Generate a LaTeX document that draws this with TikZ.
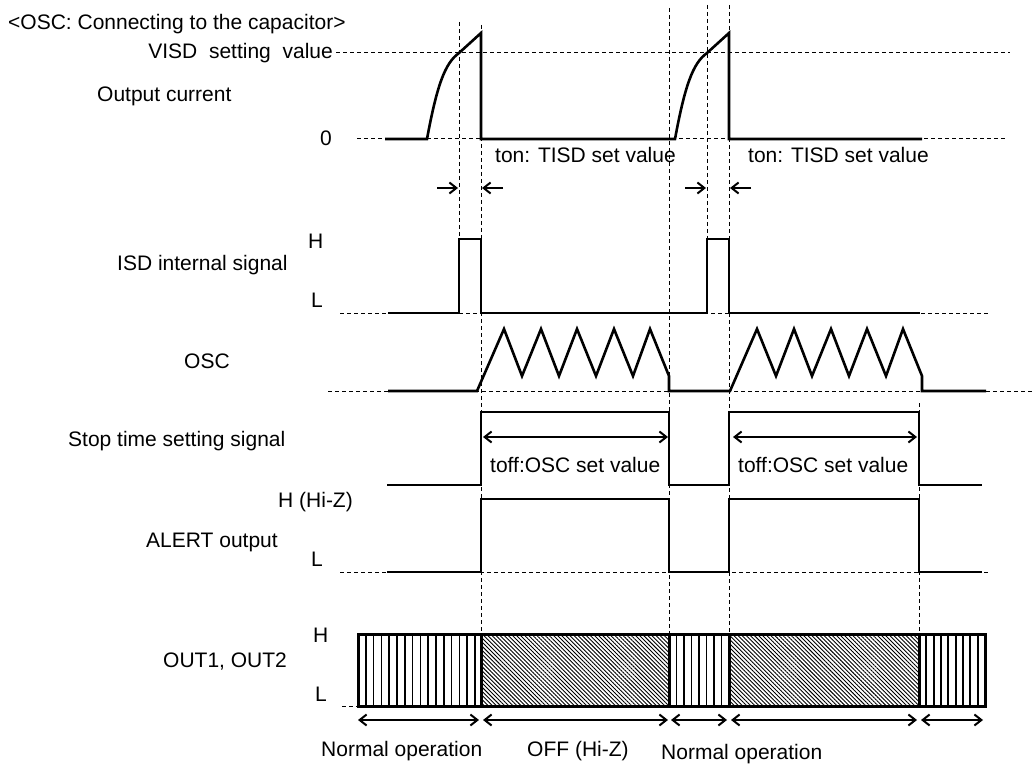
\documentclass[tikz,border=0pt]{standalone}
\usepackage{fontspec}
\setmainfont{Liberation Sans}
\usetikzlibrary{arrows.meta,patterns.meta}
\begin{document}
\begin{tikzpicture}[x=1pt,y=-1pt,
  sig/.style={line width=2.6pt, line join=miter},
  guide/.style={line width=1pt, dash pattern=on 4pt off 3pt},
  lbl/.style={font=\fontsize{21}{25}\selectfont, inner sep=0pt},
  tipr/.style={line width=2.4pt, -{Straight Barb[length=7pt,width=11pt,line width=2pt]}},
  dimarrow/.style={line width=2.4pt, {Straight Barb[length=7pt,width=11pt,line width=2pt]}-{Straight Barb[length=7pt,width=11pt,line width=2pt]}},
  boxline/.style={line width=3pt},
  stripe/.style={line width=1.7pt},
  hatch/.style={pattern={Lines[angle=-45,distance=2.9pt,line width=0.9pt]}}
]
\useasboundingbox (0,0) rectangle (1035,767);

% vertical guide lines
\draw[guide] (459,22) -- (459,239);
\draw[guide] (481,25) -- (481,634);
\draw[guide] (669,8) -- (669,634);
\draw[guide] (707,5) -- (707,239);
\draw[guide] (729,5) -- (729,634);
\draw[guide] (919,403) -- (919,634);

% horizontal guide lines
\draw[guide] (336,53) -- (1010,53);
\draw[guide] (357,139) -- (1007,139);
\draw[guide] (340,313) -- (990,313);
\draw[guide] (328,391) -- (1035,391);
\draw[guide] (340,572) -- (990,572);
\draw[guide] (342,706) -- (358,706);

% output current
\draw[sig] (385,139) -- (427,139) .. controls (437,85) and (445,63) .. (459,53) -- (481,33) -- (481,139) -- (675,139) .. controls (685,85) and (693,63) .. (707,53) -- (729,33) -- (729,139) -- (922,139);

% ISD internal signal
\draw[sig] (388,313) -- (459,313) -- (459,239) -- (481,239) -- (481,313) -- (707,313) -- (707,239) -- (729,239) -- (729,313) -- (920,313);

% OSC
\draw[sig] (388,391) -- (477,391) -- (504,329) -- (522,376) -- (541,329) -- (559,376) -- (577,329) -- (596,376) -- (614,329) -- (633,376) -- (650,329) -- (669,376) -- (669,391) -- (730,391) -- (757,329) -- (776,376) -- (794,329) -- (812,376) -- (831,329) -- (849,376) -- (867,329) -- (886,376) -- (903,329) -- (922,376) -- (922,391) -- (986,391);

% stop time setting signal
\draw[sig] (387,485) -- (481,485) -- (481,412) -- (669,412) -- (669,485) -- (729,485) -- (729,412) -- (919,412) -- (919,485) -- (982,485);

% ALERT output
\draw[sig] (387,572) -- (481,572) -- (481,499) -- (669,499) -- (669,572) -- (729,572) -- (729,499) -- (919,499) -- (919,572) -- (982,572);

% ton arrows
\draw[tipr] (437,188) -- (458,188);
\draw[tipr] (503,188) -- (482,188);
\draw[tipr] (685,188) -- (706,188);
\draw[tipr] (751,188) -- (730,188);

% toff arrows
\draw[dimarrow] (483,437) -- (668,437);
\draw[dimarrow] (733,437) -- (917,437);

% OUT1, OUT2 bars
\fill[hatch] (481,634) rectangle (669,706);
\fill[hatch] (729,634) rectangle (919,706);
\foreach \i in {1,...,15} \draw[stripe] ({358+7.8*\i},634) -- ({358+7.8*\i},706);
\foreach \i in {1,...,7} \draw[stripe] ({669+7.5*\i},634) -- ({669+7.5*\i},706);
\foreach \i in {1,...,8} \draw[stripe] ({919+7.33*\i},634) -- ({919+7.33*\i},706);
\draw[boxline] (358,634) rectangle (481,706);
\draw[boxline] (481,634) rectangle (669,706);
\draw[boxline] (669,634) rectangle (729,706);
\draw[boxline] (729,634) rectangle (919,706);
\draw[boxline] (919,634) rectangle (985,706);

% bottom arrows
\draw[dimarrow] (358,720) -- (479,720);
\draw[dimarrow] (483,720) -- (668,720);
\draw[dimarrow] (671,720) -- (727,720);
\draw[dimarrow] (731,720) -- (917,720);
\draw[dimarrow] (921,720) -- (983,720);

% labels
\node[lbl, anchor=base west] (title) at (8,30) {<OSC: Connecting to the capacitor>};
\node[lbl, anchor=base east] (visd) at (333,59) {VISD\ \ setting\ \ value};
\node[lbl, anchor=base west] (ocur) at (97,102) {Output current};
\node[lbl, anchor=base west] (zero) at (320,146) {0};
\node[lbl, anchor=base west] (ton1) at (495,163) {ton: TISD set value};
\node[lbl, anchor=base west] (ton2) at (748,163) {ton: TISD set value};
\node[lbl, anchor=base west] (isdH) at (308,248) {H};
\node[lbl, anchor=base west] (isd) at (117,270) {ISD internal signal};
\node[lbl, anchor=base west] (isdL) at (311,307) {L};
\node[lbl, anchor=base west] (osc) at (184,368) {OSC};
\node[lbl, anchor=base west] (stop) at (68,446) {Stop time setting signal};
\node[lbl, anchor=base west] (toff1) at (490,472) {toff:OSC set value};
\node[lbl, anchor=base west] (toff2) at (738,472) {toff:OSC set value};
\node[lbl, anchor=base west] (alH) at (278,507) {H (Hi-Z)};
\node[lbl, anchor=base west] (alert) at (146,547) {ALERT output};
\node[lbl, anchor=base west] (alL) at (311,566) {L};
\node[lbl, anchor=base west] (outH) at (313,642) {H};
\node[lbl, anchor=base west] (out) at (163,667) {OUT1, OUT2};
\node[lbl, anchor=base west] (outL) at (315,701) {L};
\node[lbl, anchor=base west] (norm1) at (321,756) {Normal operation};
\node[lbl, anchor=base west] (off) at (527,756) {OFF (Hi-Z)};
\node[lbl, anchor=base west] (norm2) at (661,759) {Normal operation};
\end{tikzpicture}
\end{document}
